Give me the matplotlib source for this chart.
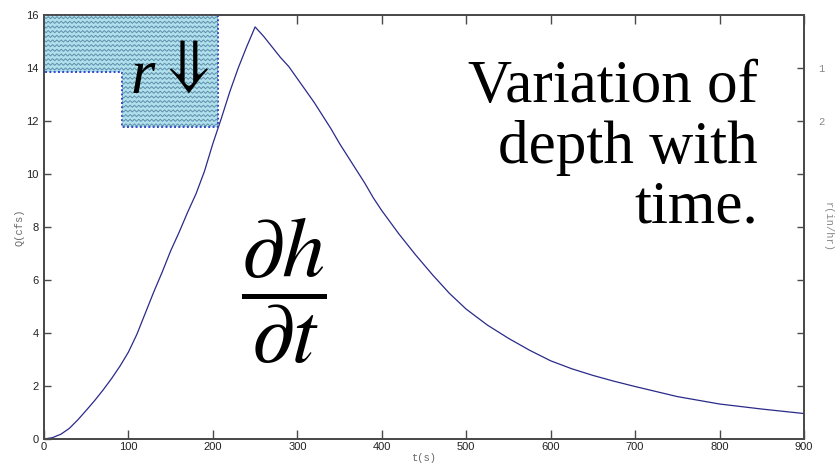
import numpy as np
import matplotlib
matplotlib.use("Agg")
from matplotlib import pyplot as plt
from matplotlib.collections import LineCollection

plt.rcParams['mathtext.fontset'] = 'stix'

# hydrograph: time (s) and discharge Q (cfs)
t = [0, 10, 20, 30, 40, 50, 60, 70, 80, 90, 100, 110, 120, 130, 140, 150,
     160, 170, 180, 190, 200, 210, 220, 230, 240, 250,
     260, 270, 280, 290, 300, 310, 320, 330, 340, 350, 360, 370, 380, 390,
     400, 420, 440, 460, 480, 500, 525, 550, 575, 600, 625, 650, 675, 700,
     750, 800, 850, 900]
Q = [0, 0.05, 0.18, 0.4, 0.72, 1.08, 1.45, 1.85, 2.28, 2.75, 3.28, 3.95,
     4.75, 5.55, 6.3, 7.1, 7.8, 8.55, 9.25, 10.1, 11.15, 12.1, 13.1, 14.0,
     14.8, 15.55,
     15.2, 14.8, 14.4, 14.05, 13.6, 13.15, 12.7, 12.2, 11.7, 11.15, 10.65,
     10.15, 9.65, 9.1, 8.62, 7.75, 6.95, 6.2, 5.5, 4.9, 4.3, 3.8, 3.35, 2.95,
     2.65, 2.4, 2.18, 1.98, 1.6, 1.32, 1.13, 0.96]

# rainfall hyetograph: block edges (s) and intensity r (in/hr)
rain_t = [0, 92, 206]
rain_r = [1.08, 2.12, 2.12]

x_ticks = [0, 100, 200, 300, 400, 500, 600, 700, 800, 900]
q_ticks = [0, 2, 4, 6, 8, 10, 12, 14, 16]
r_ticks = [1, 2, 3, 4, 5, 6, 7]
r_labels = ['1', '2', '', '', '', '', '']

spine_col = '#4a4a4a'

fig = plt.figure(figsize=(8.38, 4.69), dpi=100)
ax = fig.add_axes([0.0525, 0.064, 0.9069, 0.904])
ax2 = ax.twinx()

ax.plot(t, Q, color='#2a2a8a', lw=0.9, zorder=3)
ax.set_xlim(0, 900)
ax.set_ylim(0, 16)
ax.set_xticks(x_ticks)
ax.set_yticks(q_ticks)
ax.tick_params(axis='x', direction='in', top=True, length=6.5, width=1,
               color=spine_col, labelsize=8, pad=2, labelcolor='#222')
ax.tick_params(axis='y', direction='in', right=False, length=5, width=1,
               color=spine_col, labelsize=8, pad=4, labelcolor='#222')
for lab in ax.get_xticklabels() + ax.get_yticklabels():
    lab.set_family('Liberation Sans')

ax.set_xlabel('t(s)', family='Liberation Mono', fontsize=7.5, color='#666',
              labelpad=1)
ax.set_ylabel('Q(cfs)', family='Liberation Mono', fontsize=7.5, color='#666',
              labelpad=1)

# rainfall on an inverted right axis
ax2.set_ylim(8, 0)
ax2.set_yticks(r_ticks)
ax2.set_yticklabels(r_labels, family='Liberation Mono')
ax2.tick_params(axis='y', direction='in', length=5, width=1, color=spine_col,
                labelsize=7.5, labelcolor='#888', pad=10)
ax2.set_ylabel('r(in/hr)', family='Liberation Mono', fontsize=7.5,
               color='#888', rotation=270, labelpad=6)

rain = ax2.fill_between(rain_t, 0, rain_r, step='post', facecolor='#b0dfee',
                        edgecolor='#3344cc', linestyle=(0, (1, 1.2)),
                        linewidth=1.4, zorder=2)

# zigzag texture inside the rain blocks
rows = np.arange(0.05, max(rain_r) + 0.1, 0.088)
xs = np.arange(0, rain_t[-1] + 6, 2.55)
segs = []
for y0 in rows:
    ys = y0 + np.where(np.arange(len(xs)) % 2 == 0, -0.02, 0.02)
    segs.append(np.column_stack([xs, ys]))
zig = LineCollection(segs, colors='#5f8fa8', linewidths=0.7, zorder=2.5)
ax2.add_collection(zig)
zig.set_clip_path(rain.get_paths()[0], ax2.transData)

for a in (ax, ax2):
    for s in a.spines.values():
        s.set_color(spine_col)
        s.set_linewidth(1.3)

# annotations (on the top axes so the rain fill does not hide them)
ax2.text(0.130, 0.816, 'r', transform=ax2.transAxes, family='Liberation Serif',
         style='italic', fontsize=45, ha='center', va='baseline', zorder=5)
ax2.text(0.189, 0.877, '\u21d3', transform=ax2.transAxes, family='STIXGeneral',
         fontsize=46, ha='center', va='center', zorder=5)
ax2.text(0.9395, 0.894, 'Variation of\ndepth with\ntime.',
         transform=ax2.transAxes, family='Liberation Serif', fontsize=44,
         ha='right', va='top', linespacing=1.1, zorder=5)
ax2.text(0.316, 0.351, r'$\dfrac{\partial h}{\partial t}$',
         transform=ax2.transAxes, fontsize=62, ha='center', va='center',
         zorder=5)

fig.savefig('out.png', dpi=100)
